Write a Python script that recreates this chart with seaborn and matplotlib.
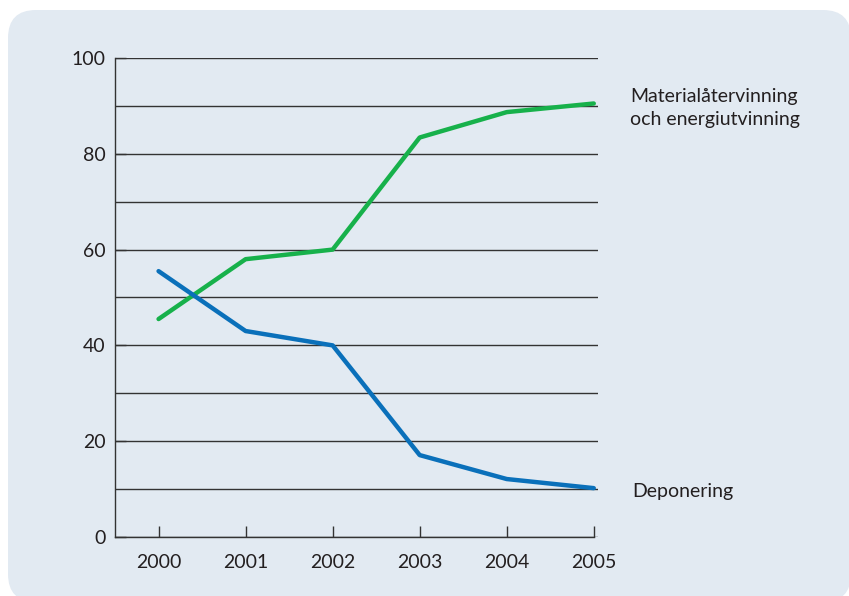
import pandas as pd
import seaborn as sns
import matplotlib.pyplot as plt
from matplotlib.patches import FancyBboxPatch

# Data
years = [2000, 2001, 2002, 2003, 2004, 2005]
material = [45.5, 58.0, 60.0, 83.4, 88.7, 90.5]
deponering = [55.5, 43.0, 40.0, 17.1, 12.1, 10.2]
series_names = ["Materialåtervinning\noch energiutvinning", "Deponering"]
y_ticks = [0, 20, 40, 60, 80, 100]

df = pd.DataFrame({
    "år": years * 2,
    "andel": material + deponering,
    "serie": [series_names[0]] * len(years) + [series_names[1]] * len(years),
})

sns.set_style("white")
plt.rcParams["font.family"] = ["Lato", "DejaVu Sans"]
text_col = "#231f20"

fig = plt.figure(figsize=(8.49, 5.96), dpi=100)
fig.patch.set_facecolor("white")

# rounded panel behind the chart
panel = FancyBboxPatch((8, -6), 843, 592, boxstyle="round,pad=0,rounding_size=28",
                       transform=None, facecolor="#e2eaf2", edgecolor="none", zorder=-5)
fig.patches.append(panel)

ax = fig.add_axes([0.1355, 0.099, 0.569, 0.8037])
ax.set_facecolor("none")
ax.set_zorder(2)

palette = {series_names[0]: "#17b14b", series_names[1]: "#0a70ba"}
sns.lineplot(data=df, x="år", y="andel", hue="serie", palette=palette,
             linewidth=3.2, legend=False, ax=ax, zorder=3)

ax.set_xlim(1999.5, 2005.05)
ax.set_ylim(0, 100)
ax.set_xticks(years)
ax.set_xticklabels([str(y) for y in years])
ax.set_yticks(y_ticks)
ax.set_yticks(range(10, 100, 20), minor=True)
ax.yaxis.grid(True, which="both", color="#333333", linewidth=1.0)
ax.xaxis.grid(False)
ax.set_xlabel("")
ax.set_ylabel("")

for s in ["top", "right"]:
    ax.spines[s].set_visible(False)
for s in ["left", "bottom"]:
    ax.spines[s].set_color("#333333")
    ax.spines[s].set_linewidth(1.0)
ax.spines["bottom"].set_bounds(1999.5, 2005)

ax.tick_params(axis="x", bottom=True, direction="in", length=8, width=1,
               color="#333333", pad=12, labelsize=14, labelcolor=text_col)
ax.tick_params(axis="y", which="major", left=True, direction="in", length=8,
               width=1, color="#333333", pad=7, labelsize=14, labelcolor=text_col)
ax.tick_params(axis="y", which="minor", length=0)

ax.text(2005.42, 86.0, series_names[0], fontsize=14, color=text_col,
        va="baseline", ha="left", clip_on=False, linespacing=1.42)
ax.text(2005.44, 8.35, series_names[1], fontsize=14, color=text_col,
        va="baseline", ha="left", clip_on=False)

plt.savefig("out.png", dpi=100)
plt.close()
